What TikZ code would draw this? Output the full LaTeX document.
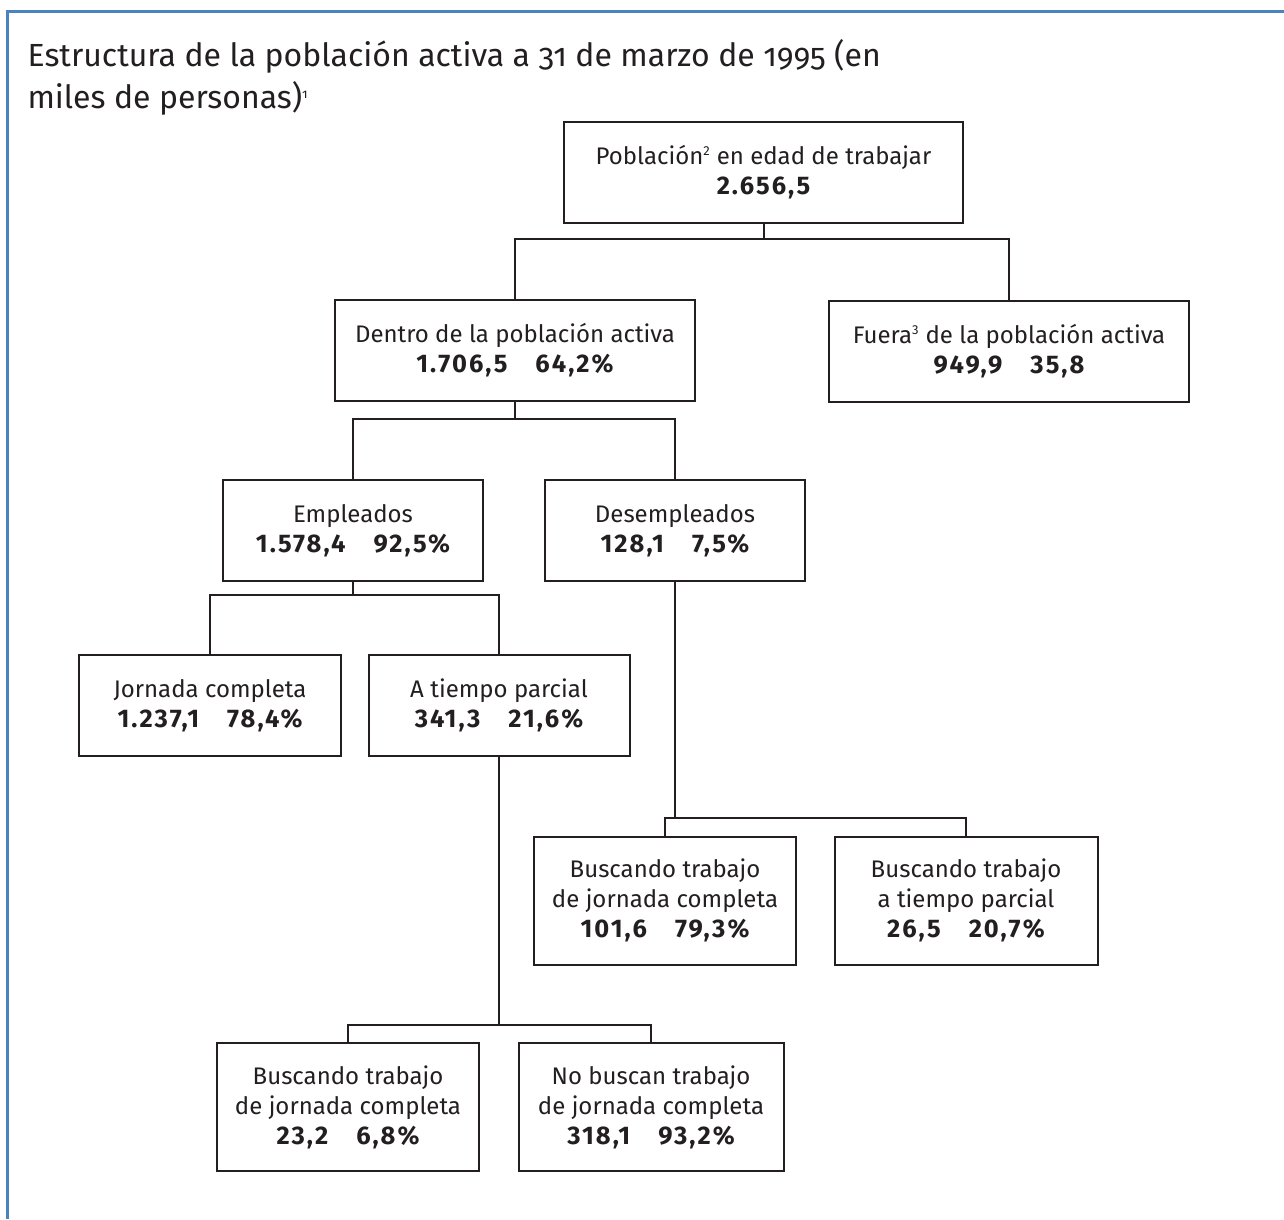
\documentclass[tikz,border=0pt]{standalone}
\usepackage{fontspec}
\setmainfont{Fira Sans}
\newfontfamily\titlefont{Fira Sans}[Numbers=OldStyle,RawFeature=+onum]
\newfontfamily\numfont{Fira Sans}[LetterSpace=8]
\definecolor{frameblue}{HTML}{4A84C0}
\definecolor{linegray}{HTML}{231F20}
\begin{document}
\begin{tikzpicture}[x=1pt,y=-1pt,
  box/.style={draw=linegray, line width=2pt, align=center, inner sep=0pt,
    font=\fontsize{24}{30}\selectfont, text=linegray},
  box2/.style={box, minimum height=101pt},
  box3/.style={box, minimum height=128pt},
  conn/.style={draw=linegray, line width=2pt},
  ttl/.style={anchor=base west, font=\titlefont\fontsize{32}{42}\selectfont, text=linegray}]
\useasboundingbox (0,0) rectangle (1284,1219);
\fill[white] (0,0) rectangle (1284,1219);
\draw[frameblue, line width=3pt] (7,1219) -- (7,11) -- (1284,11);

\node[ttl] (t1) at (24,66) {Estructura de la población activa a 31 de marzo de 1995 (en};
\node[ttl] (t2) at (24,108) {miles de personas)\textsuperscript{\fontsize{13}{13}\selectfont 1}};

\newcommand\bnum[1]{{\numfont\bfseries\fontsize{25.5}{30}\selectfont #1}}
\newcommand\nums[2]{\bnum{#1}\hspace{28pt}\bnum{#2}}
\newcommand\fsup[1]{\textsuperscript{\fontsize{13}{13}\selectfont #1}}

\node[box2, minimum width=399pt] (pob) at (763.5,172.5) {Población\fsup{2} en edad de trabajar\\\bnum{2.656,5}};
\node[box2, minimum width=360pt] (dentro) at (515,350.5) {Dentro de la población activa\\\nums{1.706,5}{64,2\%}};
\node[box2, minimum width=360pt] (fuera) at (1009,351) {Fuera\fsup{3} de la población activa\\\nums{949,9}{35,8}};
\node[box2, minimum width=260pt] (emp) at (353,530.5) {Empleados\\\nums{1.578,4}{92,5\%}};
\node[box2, minimum width=260pt] (desemp) at (675,530.5) {Desempleados\\\nums{128,1}{7,5\%}};
\node[box2, minimum width=262pt] (jorn) at (210,705.5) {Jornada completa\\\nums{1.237,1}{78,4\%}};
\node[box2, minimum width=261pt] (atp) at (499,705.5) {A tiempo parcial\\\nums{341,3}{21,6\%}};
\node[box3, minimum width=262pt] (ba) at (665,900.5) {Buscando trabajo\\de jornada completa\\\nums{101,6}{79,3\%}};
\node[box3, minimum width=263pt] (bb) at (966,900.5) {Buscando trabajo\\a tiempo parcial\\\nums{26,5}{20,7\%}};
\node[box3, minimum width=262pt] (bc) at (348,1107) {Buscando trabajo\\de jornada completa\\\nums{23,2}{6,8\%}};
\node[box3, minimum width=265pt] (bd) at (651,1107) {No buscan trabajo\\de jornada completa\\\nums{318,1}{93,2\%}};

\coordinate (y1) at (0,239);
\coordinate (y2) at (0,419);
\coordinate (y3) at (0,595);
\coordinate (y4) at (0,818);
\coordinate (y5) at (0,1025);

\draw[conn] (pob.south) -- (pob.south |- y1);
\draw[conn] (dentro.north) -- (dentro.north |- y1) -- (fuera.north |- y1) -- (fuera.north);

\draw[conn] (dentro.south) -- (dentro.south |- y2);
\draw[conn] (emp.north) -- (emp.north |- y2) -- (desemp.north |- y2) -- (desemp.north);

\draw[conn] (emp.south) -- (emp.south |- y3);
\draw[conn] (jorn.north) -- (jorn.north |- y3) -- (atp.north |- y3) -- (atp.north);

\draw[conn] (desemp.south) -- (desemp.south |- y4);
\draw[conn] (ba.north) -- (ba.north |- y4) -- (bb.north |- y4) -- (bb.north);

\draw[conn] (atp.south) -- (atp.south |- y5);
\draw[conn] (bc.north) -- (bc.north |- y5) -- (bd.north |- y5) -- (bd.north);
\end{tikzpicture}
\end{document}
